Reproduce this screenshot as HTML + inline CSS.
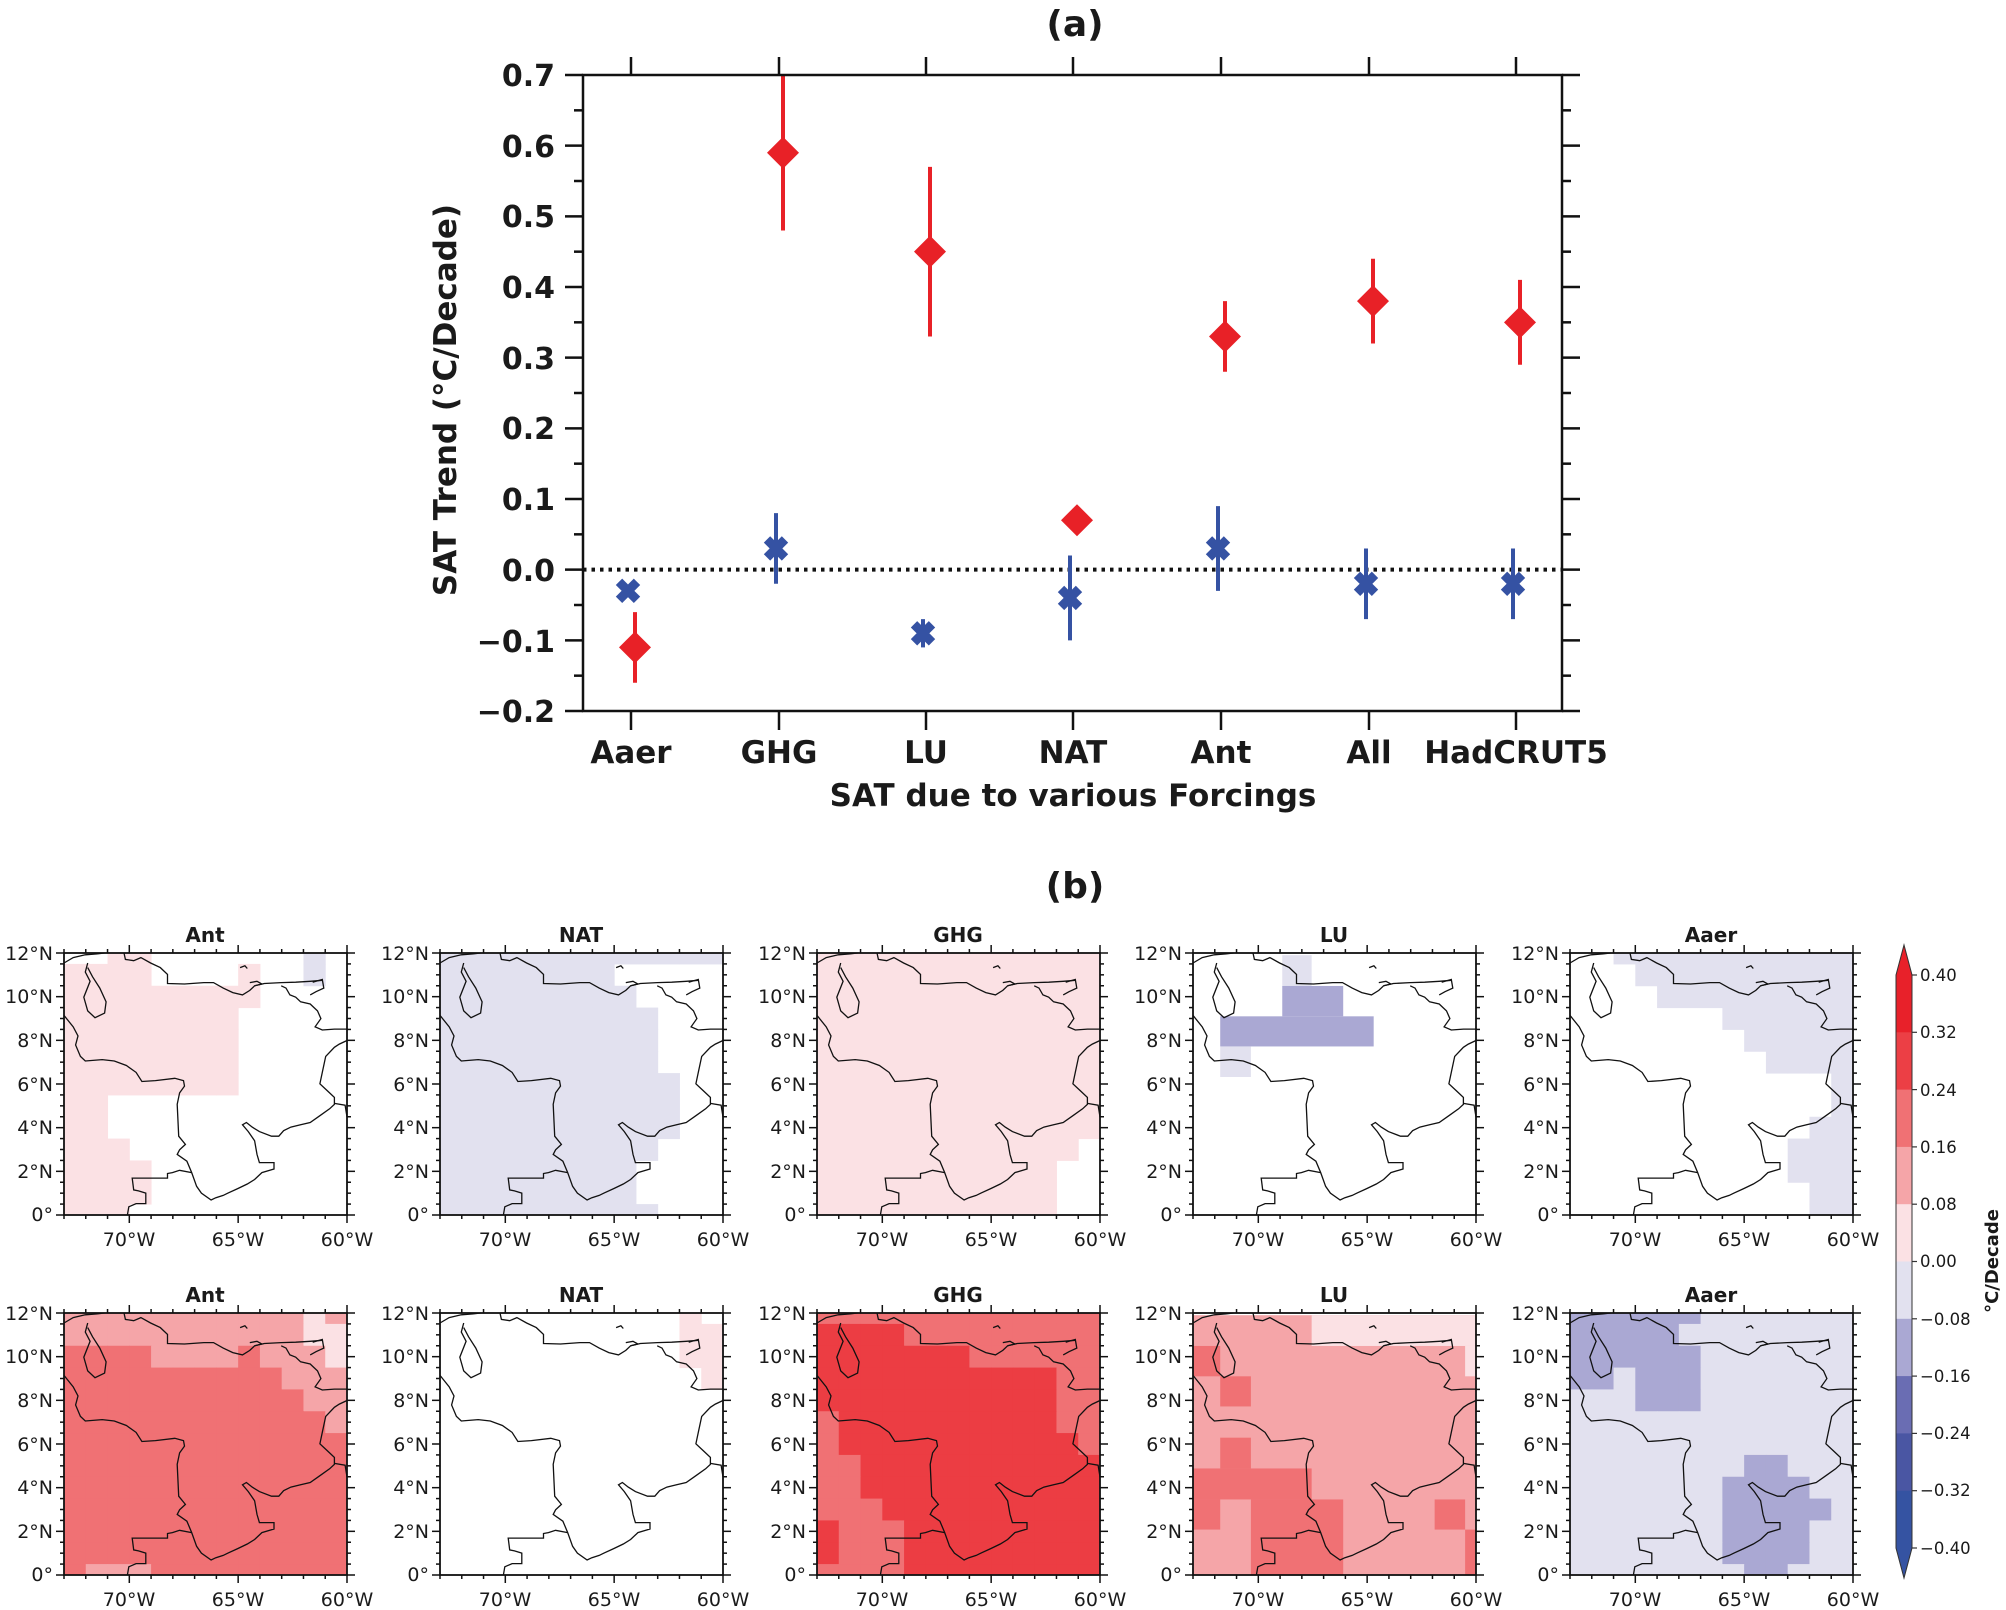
<!DOCTYPE html>
<html><head><meta charset="utf-8"><style>
html,body{margin:0;padding:0;background:#fff;}
svg{display:block;}
.b{font-family:"DejaVu Sans","Liberation Sans",sans-serif;font-weight:bold;fill:#1a1a1a;}
.n{font-family:"DejaVu Sans","Liberation Sans",sans-serif;fill:#1a1a1a;font-size:19px;}
</style></head><body>
<svg id="s" width="2006" height="1610" viewBox="0 0 2006 1610" xmlns="http://www.w3.org/2000/svg">
<rect width="2006" height="1610" fill="#fff"/>
<g id="shapes"></g>
<text class="b" x="1075" y="36" font-size="36" text-anchor="middle">(a)</text>
<g class="b" font-size="30" text-anchor="end">
<text x="555" y="86">0.7</text>
<text x="555" y="157">0.6</text>
<text x="555" y="227">0.5</text>
<text x="555" y="298">0.4</text>
<text x="555" y="369">0.3</text>
<text x="555" y="439">0.2</text>
<text x="555" y="510">0.1</text>
<text x="555" y="581">0.0</text>
<text x="555" y="652">−0.1</text>
<text x="555" y="722">−0.2</text>
</g>
<g class="b" font-size="31" text-anchor="middle">
<text x="631" y="763">Aaer</text>
<text x="779" y="763">GHG</text>
<text x="926" y="763">LU</text>
<text x="1073" y="763">NAT</text>
<text x="1221" y="763">Ant</text>
<text x="1369" y="763">All</text>
<text x="1516" y="763">HadCRUT5</text>
<text x="1073" y="806">SAT due to various Forcings</text>
</g>
<text class="b" font-size="31" text-anchor="middle" transform="translate(456,400) rotate(-90)">SAT Trend (°C/Decade)</text>
<text class="b" x="1075" y="898" font-size="36" text-anchor="middle">(b)</text>

<g transform="translate(64,953)"><text class="b" x="141" y="-11" font-size="20" text-anchor="middle">Ant</text><g class="n" text-anchor="end"><text x="-11" y="7">12°N</text><text x="-11" y="50">10°N</text><text x="-11" y="94">8°N</text><text x="-11" y="138">6°N</text><text x="-11" y="181">4°N</text><text x="-11" y="225">2°N</text><text x="-11" y="268">0°</text></g><g class="n" text-anchor="middle"><text x="65" y="293">70°W</text><text x="174" y="293">65°W</text><text x="283" y="293">60°W</text></g></g>
<g transform="translate(440,953)"><text class="b" x="141" y="-11" font-size="20" text-anchor="middle">NAT</text><g class="n" text-anchor="end"><text x="-11" y="7">12°N</text><text x="-11" y="50">10°N</text><text x="-11" y="94">8°N</text><text x="-11" y="138">6°N</text><text x="-11" y="181">4°N</text><text x="-11" y="225">2°N</text><text x="-11" y="268">0°</text></g><g class="n" text-anchor="middle"><text x="65" y="293">70°W</text><text x="174" y="293">65°W</text><text x="283" y="293">60°W</text></g></g>
<g transform="translate(817,953)"><text class="b" x="141" y="-11" font-size="20" text-anchor="middle">GHG</text><g class="n" text-anchor="end"><text x="-11" y="7">12°N</text><text x="-11" y="50">10°N</text><text x="-11" y="94">8°N</text><text x="-11" y="138">6°N</text><text x="-11" y="181">4°N</text><text x="-11" y="225">2°N</text><text x="-11" y="268">0°</text></g><g class="n" text-anchor="middle"><text x="65" y="293">70°W</text><text x="174" y="293">65°W</text><text x="283" y="293">60°W</text></g></g>
<g transform="translate(1193,953)"><text class="b" x="141" y="-11" font-size="20" text-anchor="middle">LU</text><g class="n" text-anchor="end"><text x="-11" y="7">12°N</text><text x="-11" y="50">10°N</text><text x="-11" y="94">8°N</text><text x="-11" y="138">6°N</text><text x="-11" y="181">4°N</text><text x="-11" y="225">2°N</text><text x="-11" y="268">0°</text></g><g class="n" text-anchor="middle"><text x="65" y="293">70°W</text><text x="174" y="293">65°W</text><text x="283" y="293">60°W</text></g></g>
<g transform="translate(1570,953)"><text class="b" x="141" y="-11" font-size="20" text-anchor="middle">Aaer</text><g class="n" text-anchor="end"><text x="-11" y="7">12°N</text><text x="-11" y="50">10°N</text><text x="-11" y="94">8°N</text><text x="-11" y="138">6°N</text><text x="-11" y="181">4°N</text><text x="-11" y="225">2°N</text><text x="-11" y="268">0°</text></g><g class="n" text-anchor="middle"><text x="65" y="293">70°W</text><text x="174" y="293">65°W</text><text x="283" y="293">60°W</text></g></g>
<g transform="translate(64,1313)"><text class="b" x="141" y="-11" font-size="20" text-anchor="middle">Ant</text><g class="n" text-anchor="end"><text x="-11" y="7">12°N</text><text x="-11" y="50">10°N</text><text x="-11" y="94">8°N</text><text x="-11" y="138">6°N</text><text x="-11" y="181">4°N</text><text x="-11" y="225">2°N</text><text x="-11" y="268">0°</text></g><g class="n" text-anchor="middle"><text x="65" y="293">70°W</text><text x="174" y="293">65°W</text><text x="283" y="293">60°W</text></g></g>
<g transform="translate(440,1313)"><text class="b" x="141" y="-11" font-size="20" text-anchor="middle">NAT</text><g class="n" text-anchor="end"><text x="-11" y="7">12°N</text><text x="-11" y="50">10°N</text><text x="-11" y="94">8°N</text><text x="-11" y="138">6°N</text><text x="-11" y="181">4°N</text><text x="-11" y="225">2°N</text><text x="-11" y="268">0°</text></g><g class="n" text-anchor="middle"><text x="65" y="293">70°W</text><text x="174" y="293">65°W</text><text x="283" y="293">60°W</text></g></g>
<g transform="translate(817,1313)"><text class="b" x="141" y="-11" font-size="20" text-anchor="middle">GHG</text><g class="n" text-anchor="end"><text x="-11" y="7">12°N</text><text x="-11" y="50">10°N</text><text x="-11" y="94">8°N</text><text x="-11" y="138">6°N</text><text x="-11" y="181">4°N</text><text x="-11" y="225">2°N</text><text x="-11" y="268">0°</text></g><g class="n" text-anchor="middle"><text x="65" y="293">70°W</text><text x="174" y="293">65°W</text><text x="283" y="293">60°W</text></g></g>
<g transform="translate(1193,1313)"><text class="b" x="141" y="-11" font-size="20" text-anchor="middle">LU</text><g class="n" text-anchor="end"><text x="-11" y="7">12°N</text><text x="-11" y="50">10°N</text><text x="-11" y="94">8°N</text><text x="-11" y="138">6°N</text><text x="-11" y="181">4°N</text><text x="-11" y="225">2°N</text><text x="-11" y="268">0°</text></g><g class="n" text-anchor="middle"><text x="65" y="293">70°W</text><text x="174" y="293">65°W</text><text x="283" y="293">60°W</text></g></g>
<g transform="translate(1570,1313)"><text class="b" x="141" y="-11" font-size="20" text-anchor="middle">Aaer</text><g class="n" text-anchor="end"><text x="-11" y="7">12°N</text><text x="-11" y="50">10°N</text><text x="-11" y="94">8°N</text><text x="-11" y="138">6°N</text><text x="-11" y="181">4°N</text><text x="-11" y="225">2°N</text><text x="-11" y="268">0°</text></g><g class="n" text-anchor="middle"><text x="65" y="293">70°W</text><text x="174" y="293">65°W</text><text x="283" y="293">60°W</text></g></g>
<g class="n" style="font-size:16.5px">
<text x="1920" y="981">0.40</text>
<text x="1920" y="1038">0.32</text>
<text x="1920" y="1096">0.24</text>
<text x="1920" y="1153">0.16</text>
<text x="1920" y="1210">0.08</text>
<text x="1920" y="1267">0.00</text>
<text x="1920" y="1325">−0.08</text>
<text x="1920" y="1382">−0.16</text>
<text x="1920" y="1439">−0.24</text>
<text x="1920" y="1496">−0.32</text>
<text x="1920" y="1554">−0.40</text>
</g>
<text class="b" font-size="18" text-anchor="middle" transform="translate(1998,1261) rotate(-90)">°C/Decade</text>
</svg>
<script>
(function(){
var NS="http://www.w3.org/2000/svg",G=document.getElementById("shapes");
function el(t,a){var e=document.createElementNS(NS,t);for(var k in a)e.setAttribute(k,a[k]);G.appendChild(e);return e;}
var L=583,R=1562,T=75,B=711;
function Y(v){return B-(v+0.2)*(B-T)/0.9;}
var cx=[631,779,926,1073,1221,1369,1516];
el("line",{x1:L,y1:Y(0),x2:R,y2:Y(0),stroke:"#111","stroke-width":4,"stroke-dasharray":"3.5 5"});
var red=[[-0.11,-0.16,-0.06],[0.59,0.48,0.70],[0.45,0.33,0.57],[0.07,null,null],[0.33,0.28,0.38],[0.38,0.32,0.44],[0.35,0.29,0.41]];
var blue=[[-0.03,null,null],[0.03,-0.02,0.08],[-0.09,-0.11,-0.07],[-0.04,-0.10,0.02],[0.03,-0.03,0.09],[-0.02,-0.07,0.03],[-0.02,-0.07,0.03]];
var RC="#e82127",BC="#3552a3";
for(var i=0;i<7;i++){
 var x=cx[i]-3,d=blue[i];
 if(d[1]!==null)el("line",{x1:x,y1:Y(d[1]),x2:x,y2:Y(d[2]),stroke:BC,"stroke-width":4});
 var y=Y(d[0]);
 el("path",{d:"M"+(x-9)+","+(y-9)+"L"+(x+9)+","+(y+9)+"M"+(x+9)+","+(y-9)+"L"+(x-9)+","+(y+9),stroke:BC,"stroke-width":9,"stroke-linecap":"butt"});
 x=cx[i]+4;d=red[i];
 if(d[1]!==null)el("line",{x1:x,y1:Y(d[1]),x2:x,y2:Y(d[2]),stroke:RC,"stroke-width":4});
 y=Y(d[0]);
 el("polygon",{points:(x-16)+","+y+" "+x+","+(y-16)+" "+(x+16)+","+y+" "+x+","+(y+16),fill:RC});
}
el("rect",{x:L,y:T,width:R-L,height:B-T,fill:"none",stroke:"#111","stroke-width":2.5});
for(var v=-0.2;v<=0.7001;v+=0.05){
 var yy=Y(v),maj=Math.abs(Math.round(v*20))%2==0;
 var len=maj?18:9;
 el("line",{x1:L-len,y1:yy,x2:L,y2:yy,stroke:"#111","stroke-width":2.5});
 el("line",{x1:R,y1:yy,x2:R+len,y2:yy,stroke:"#111","stroke-width":2.5});
}
for(var i=0;i<7;i++){
 el("line",{x1:cx[i],y1:T-18,x2:cx[i],y2:T,stroke:"#111","stroke-width":2.5});
 el("line",{x1:cx[i],y1:B,x2:cx[i],y2:B+19,stroke:"#111","stroke-width":2.5});
}
var C={".":null,P:"#fbe1e4",B:"#e2e1ef",D:"#aaa8d3",L:"#f5a5a8",M:"#f07174",R:"#ec3d43"};
var lefts=[64,440,817,1193,1570],tops=[953,1313],W=283,H=262;
function rep(a,n){var r=[];for(var i=0;i<n;i++)r.push(a);return r;}
var grids={
"0,0":["..PP.......B.","PPPP....P..B.","PPPPPPPPP...."].concat(rep("PPPPPPPP.....",4),rep("PP...........",2),["PPP.........."],rep("PPPP.........",2),["PPP.........."]),
"0,1":["BBBBBBBBBBBBB","BBBBBBBB.....","BBBBBBBBB...."].concat(rep("BBBBBBBBBB...",3),rep("BBBBBBBBBBB..",3),["BBBBBBBBBB..."],rep("BBBBBBBBB....",2),["BBBBBBBBBB..."]),
"0,2":rep("PPPPPPPPPPPPP",9).concat(["PPPPPPPPPPPP."],rep("PPPPPPPPPPP..",3)),
"0,4":["..BBBBBBBBBBB","...BBBBBBBBBB","....BBBBBBBBB",".......BBBBBB","........BBBBB",".........BBBB","............B","............B","...........BB","..........BBB","..........BBB","...........BB","...........BB"],
"1,0":["LLLLLLLLLLLPL","LLLLLLLLLLLPP","MMMMLLLLMLLLP","MMMMMMMMMMLLL","MMMMMMMMMMMLL","MMMMMMMMMMMML"].concat(rep("MMMMMMMMMMMMM",6),["MLLLMMMMMMMMM"]),
"1,1":["...........P.","...........PP","...........PP","............P"].concat(rep(".............",9)),
"1,2":["MMMMMMMMMMMMM","RRRRMMMMMMMMM","RRRRRRRMMMMMM","RRRRRRRRRRRMM","RRRRRRRRRRRMM","MRRRRRRRRRRMM","MRRRRRRRRRRRM","MMRRRRRRRRRRR","MMRRRRRRRRRRR","MMMRRRRRRRRRR","RMMMRRRRRRRRR","RMMMRRRRRRRRR","MMMMRRRRRRRRR"],
"1,4":["DDDDDDBBBBBBB","DDDDDBBBBBBBB","DDDDDDBBBBBBB","DDBDDDBBBBBBB","BBBDDDBBBBBBB","BBBBBBBBBBBBB","BBBBBBBBBBBBB","BBBBBBBBDDBBB","BBBBBBBDDDDBB","BBBBBBBDDDDDB","BBBBBBBDDDDBB","BBBBBBBDDDDBB","BBBBBBBBDDBBB"]
};
var rects={
"0,3":[["B",-68.9,-67.55,10.49,11.9],["D",-68.9,-66.1,9.1,10.49],["D",-71.75,-64.7,7.72,9.1],["B",-71.75,-70.34,6.32,7.72]],
"1,3":[["L",-73,-60,0,11.9],["P",-67.55,-60,10.49,11.9],["P",-60.5,-60,9.1,10.49],["M",-73,-71.75,9.1,10.49],["M",-71.75,-70.34,7.72,9.1],["M",-71.75,-70.34,4.88,6.29],["M",-73,-67.55,3.46,4.88],["M",-73,-71.75,2.08,3.46],["M",-70.34,-66.1,0,3.46],["M",-61.9,-60.5,2.08,3.46],["M",-60.5,-60,0,2.08]]
};
var coast=[
[[131,140],[150,128],[175,122],[200,120],[215,118]],
[[255,118],[258,132],[275,135],[290,128],[310,140],[330,150],[345,165],[345,185],[380,186],[420,183],[440,183],[460,195],[480,205],[500,210],[515,200],[525,190],[545,185],[580,183],[610,182],[640,180],[665,178]],
[[180,140],[175,160],[185,180],[172,215],[180,245],[195,260],[215,250],[218,225],[205,195],[190,170],[180,150]],
[[645,182],[665,176],[668,195],[652,203],[640,210]],
[[580,190],[590,195],[598,210],[610,215],[620,225],[640,230],[655,245],[662,262],[650,280],[665,287],[690,285],[716,285]],
[[131,255],[150,280],[160,300],[155,320],[165,345],[175,355],[210,352],[235,355],[260,365],[280,380],[292,400],[320,398],[360,393],[378,398],[380,410],[370,425],[365,450],[368,520],[382,538],[370,550],[365,560],[385,575],[395,600],[405,630],[415,645],[435,660],[445,655],[460,650],[470,645],[490,635],[510,625],[525,615],[540,600],[565,592],[565,578],[535,578],[530,560],[525,530],[512,510],[500,495],[508,490],[520,500],[535,510],[560,520],[575,520],[585,508],[600,500],[620,495],[640,490],[660,475],[680,460],[690,450],[690,435],[675,420],[660,405],[665,380],[672,345],[690,325],[700,318],[716,310]],
[[690,448],[712,452],[716,478]],
[[262,693],[265,675],[280,668],[300,668],[300,645],[285,640],[275,638],[272,612],[345,612],[345,602],[355,600],[370,595],[395,600]],
[[515,183],[530,180],[540,186],[525,190]],[[495,150],[505,146],[510,152]]
];
for(var rr=0;rr<2;rr++)for(var pp=0;pp<5;pp++){
 var lx=lefts[pp],ty=tops[rr],key=rr+","+pp;
 var X=function(lon){return lx+(lon+73)*W/13;};
 var Yl=function(lat){return ty+(12-lat)*H/12;};
 if(grids[key]){var g=grids[key];
  for(var r=0;r<13;r++){var la0=r==0?11.5:(r==12?0:11.5-r),la1=r==0?12:(r==12?0.5:12.5-r);
   for(var c=0;c<13;c++){var col=C[g[r][c]];if(!col)continue;
    el("rect",{x:X(-73+c),y:Yl(la1),width:W/13+0.5,height:Yl(la0)-Yl(la1)+0.5,fill:col});}}}
 if(rects[key])rects[key].forEach(function(q){el("rect",{x:X(q[1]),y:Yl(q[4]),width:X(q[2])-X(q[1]),height:Yl(q[3])-Yl(q[4]),fill:C[q[0]]});});
 coast.forEach(function(pl){var d="";pl.forEach(function(p,i){d+=(i?"L":"M")+(lx+(p[0]-131)*W/585).toFixed(1)+","+(ty+(p[1]-118)*H/575).toFixed(1);});
  el("path",{d:d,fill:"none",stroke:"#111","stroke-width":1.3});});
 el("rect",{x:lx,y:ty,width:W,height:H,fill:"none",stroke:"#111","stroke-width":1.8});
 for(var la=0;la<=12.001;la+=0.5){var yy=Yl(la),mj=(Math.round(la*2)%4==0),ln=mj?8:4;
  el("line",{x1:lx-ln,y1:yy,x2:lx,y2:yy,stroke:"#111","stroke-width":1.5});
  el("line",{x1:lx+W,y1:yy,x2:lx+W+ln,y2:yy,stroke:"#111","stroke-width":1.5});}
 for(var lo=-73;lo<=-60;lo++){var xx=X(lo),mj=(lo%5==0),ln=mj?8:4;
  el("line",{x1:xx,y1:ty-ln,x2:xx,y2:ty,stroke:"#111","stroke-width":1.5});
  el("line",{x1:xx,y1:ty+H,x2:xx,y2:ty+H+ln,stroke:"#111","stroke-width":1.5});}
}
var cb=["#e8212a","#ec3f45","#f07174","#f5a5a8","#fbe1e4","#e2e1ef","#aaa8d3","#6a6db3","#4a56a3","#3553a2"];
var cx0=1896,cw=16,c0=975,c1=1548,h=(c1-c0)/10;
el("polygon",{points:cx0+","+c0+" "+(cx0+cw/2)+",945 "+(cx0+cw)+","+c0,fill:cb[0]});
el("polygon",{points:cx0+","+c1+" "+(cx0+cw/2)+",1578 "+(cx0+cw)+","+c1,fill:cb[9]});
for(var i=0;i<10;i++)el("rect",{x:cx0,y:c0+i*h,width:cw,height:h+0.5,fill:cb[i]});
el("path",{d:"M"+cx0+","+c0+"L"+(cx0+cw/2)+",945L"+(cx0+cw)+","+c0+"L"+(cx0+cw)+","+c1+"L"+(cx0+cw/2)+",1578L"+cx0+","+c1+"Z",fill:"none",stroke:"#333","stroke-width":1});
for(var i=0;i<=10;i++)el("line",{x1:cx0+cw,y1:c0+i*h,x2:cx0+cw+5,y2:c0+i*h,stroke:"#333","stroke-width":1.2});
})();
</script>
</body></html>
